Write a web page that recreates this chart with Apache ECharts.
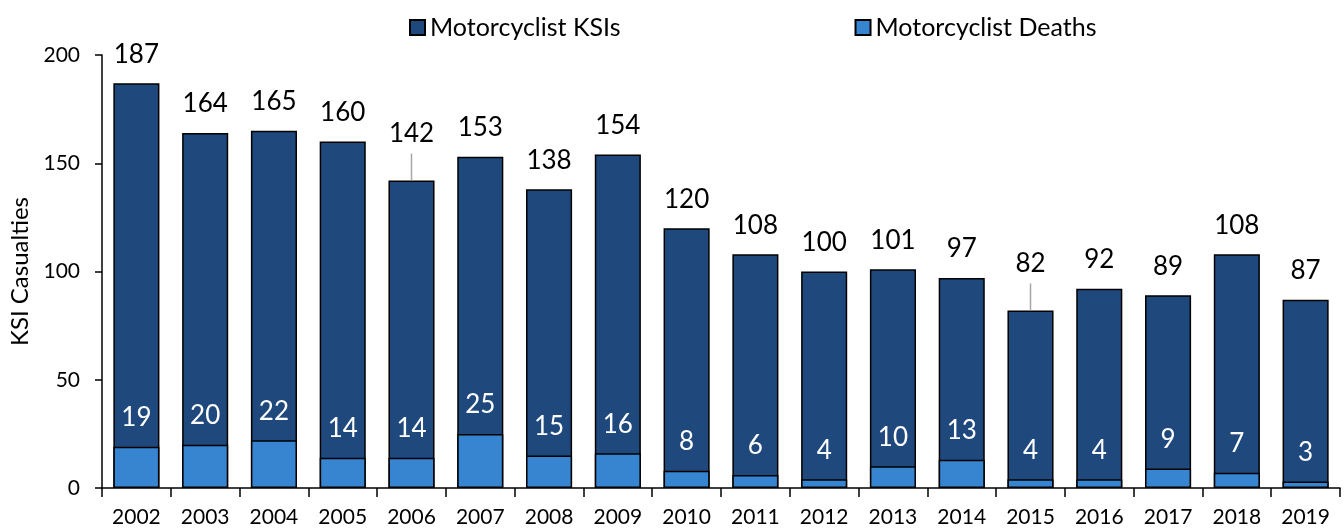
<!DOCTYPE html>
<html lang="en">
<head>
    <meta charset="UTF-8">
    <title>Motorcyclist KSIs</title>
    <script src="https://cdn.jsdelivr.net/npm/echarts@6/dist/echarts.min.js"></script>
    <style>
        html, body { margin: 0; padding: 0; background: #fff; }
        #chart { width: 1344px; height: 531px; }
    </style>
</head>
<body>
    <div id="chart"></div>
    <script>
    var years = ['2002', '2003', '2004', '2005', '2006', '2007', '2008', '2009', '2010',
        '2011', '2012', '2013', '2014', '2015', '2016', '2017', '2018', '2019'];
    var ksis = [187, 164, 165, 160, 142, 153, 138, 154, 120, 108, 100, 101, 97, 82, 92, 89, 108, 87];
    var deaths = [19, 20, 22, 14, 14, 25, 15, 16, 8, 6, 4, 10, 13, 4, 4, 9, 7, 3];
    // these two labels sit higher with a leader line in the original
    var raised = ['2006', '2015'];

    var font = 'Lato';
    var myChart = echarts.init(document.getElementById('chart'), null, { renderer: 'canvas' });

    var ksiData = ksis.map(function (v, i) {
        if (raised.indexOf(years[i]) >= 0) {
            return { value: v, label: { distance: 34 } };
        }
        return v;
    });
    var leaderData = [];
    years.forEach(function (y, i) {
        if (raised.indexOf(y) >= 0) leaderData.push([i, ksis[i]]);
    });

    var option = {
        animation: false,
        textStyle: { fontFamily: font },
        legend: {
            top: 10,
            left: 404,
            icon: 'rect',
            itemWidth: 15,
            itemHeight: 15,
            itemGap: 234,
            textStyle: { fontSize: 25, color: '#000', fontFamily: font },
            data: ['Motorcyclist KSIs', 'Motorcyclist Deaths']
        },
        grid: { left: 100, right: 4, top: 55, bottom: 43 },
        xAxis: {
            type: 'category',
            data: years,
            axisLine: { lineStyle: { color: '#000', width: 1.5 } },
            axisTick: { show: true, length: 9, lineStyle: { color: '#000', width: 1.5 } },
            axisLabel: { color: '#000', fontSize: 21, margin: 19, fontFamily: font }
        },
        yAxis: {
            type: 'value',
            min: 0,
            max: 200,
            interval: 50,
            name: 'KSI Casualties',
            nameLocation: 'middle',
            nameGap: 70,
            nameTextStyle: { fontSize: 24, color: '#000', fontFamily: font },
            splitLine: { show: false },
            axisLine: { show: true, lineStyle: { color: '#000', width: 1.5 } },
            axisTick: { show: true, length: 7, lineStyle: { color: '#000', width: 1.5 } },
            axisLabel: { color: '#000', fontSize: 21, margin: 22, fontFamily: font }
        },
        series: [
            {
                name: 'Motorcyclist KSIs',
                type: 'bar',
                barWidth: '67%',
                barGap: '-100%',
                itemStyle: { color: '#1f497d', borderColor: '#000', borderWidth: 1.5 },
                label: {
                    show: true,
                    position: 'top',
                    distance: 16,
                    color: '#000',
                    fontSize: 26,
                    fontFamily: font
                },
                data: ksiData
            },
            {
                name: 'Motorcyclist Deaths',
                type: 'bar',
                barWidth: '67%',
                barGap: '-100%',
                itemStyle: { color: '#3785d0', borderColor: '#000', borderWidth: 1.5 },
                label: {
                    show: true,
                    position: 'top',
                    distance: 16,
                    color: '#fff',
                    fontSize: 26,
                    fontFamily: font
                },
                data: deaths
            },
            {
                // leader lines for the raised labels
                type: 'custom',
                silent: true,
                z: 5,
                renderItem: function (params, api) {
                    var p = api.coord([api.value(0), api.value(1)]);
                    return {
                        type: 'line',
                        shape: { x1: p[0], y1: p[1], x2: p[0], y2: p[1] - 27 },
                        style: { stroke: '#a6a6a6', lineWidth: 1.5 }
                    };
                },
                data: leaderData
            }
        ]
    };

    myChart.setOption(option);
    </script>
</body>
</html>
